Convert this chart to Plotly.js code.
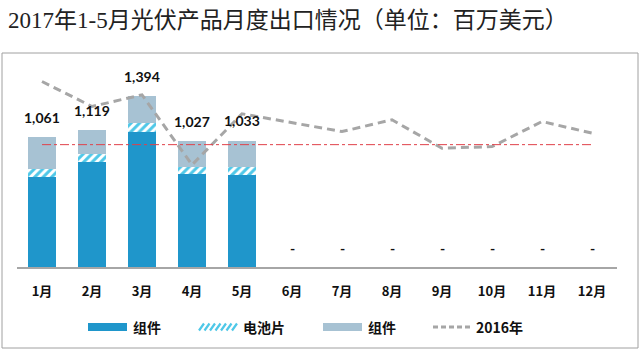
<!DOCTYPE html>
<html>
<head>
<meta charset="utf-8">
<script src="https://cdn.plot.ly/plotly-3.0.1.min.js"></script>
<style>html,body{margin:0;padding:0;background:#fff;}#chart{width:640px;height:351px;}</style>
</head>
<body>
<div id="chart"></div>
<script>
// ---- data ----
const months = ['1月','2月','3月','4月','5月','6月','7月','8月','9月','10月','11月','12月'];
const modules = [739, 862, 1107, 761, 753, null, null, null, null, null, null, null];
const cells   = [60, 60, 69, 60, 68, null, null, null, null, null, null, null];
const others  = [262, 197, 218, 206, 212, null, null, null, null, null, null, null];
const totals  = [1061, 1119, 1394, 1027, 1033, null, null, null, null, null, null, null];
const y2016   = [1516, 1312, 1407, 835, 1252, 1178, 1107, 1203, 971, 984, 1189, 1094];
const refValue = 1000;
const legendNames = ['组件', '电池片', '组件', '2016年'];

// ---- styling ----
const cBlue = '#1f96cb', cCyan = '#4fc8e8', cGrey = '#a7c2d3', cLine = '#a6a6a6', cRed = '#e0404a';
const L = 17, R = 23, T = 59, B = 84, W = 640, H = 351;
const pw = W - L - R, ph = H - T - B;
const px = x => (x - L) / pw;
const py = y => (H - B - y) / ph;

const traces = [
  {type:'bar', x:months, y:modules, name:legendNames[0], marker:{color:cBlue}, width:0.55, hoverinfo:'skip', showlegend:false},
  {type:'bar', x:months, y:cells, name:legendNames[1], width:0.55, hoverinfo:'skip', showlegend:false,
   marker:{color:'#ffffff', pattern:{shape:'/', fgcolor:cCyan, bgcolor:'#ffffff', size:6, solidity:0.5}}},
  {type:'bar', x:months, y:others, name:legendNames[2], marker:{color:cGrey}, width:0.55, hoverinfo:'skip', showlegend:false},
  {type:'scatter', mode:'lines', x:months, y:y2016, name:legendNames[3], line:{color:cLine, width:3, dash:'8px,5px'}, hoverinfo:'skip', showlegend:false}
];

const annotations = [];
months.forEach((m, i) => {
  const t = totals[i];
  annotations.push({
    x: m, y: t == null ? 0 : t, xref:'x', yref:'y', yshift: t == null ? 19 : 20,
    text: t == null ? '-' : t.toLocaleString('en-US'), showarrow:false,
    font:{family:'Lato, Open Sans, sans-serif', size:14, color:'#111', weight:'bold'}
  });
});

// custom legend
const shapes = [];
const legY = 327;
function legendText(x, txt) {
  annotations.push({xref:'paper', yref:'paper', x:px(x), y:py(legY), xanchor:'left', yanchor:'middle',
    text:txt, showarrow:false, font:{family:'Noto Sans CJK SC, sans-serif', size:14, color:'#111', weight:'bold'}});
}
shapes.push({type:'rect', xref:'paper', yref:'paper', x0:px(88), x1:px(127), y0:py(legY+4), y1:py(legY-4), fillcolor:cBlue, line:{width:0}});
legendText(131, legendNames[0]);
let hp = '';
for (let k = 0; k < 7; k++) {
  const x0 = 199 + k * 5.5;
  hp += 'M' + px(x0) + ',' + py(legY+3.5) + ' L' + px(x0 + 5) + ',' + py(legY-3.5) + ' ';
}
shapes.push({type:'path', xref:'paper', yref:'paper', path:hp, line:{color:cCyan, width:2.2}});
legendText(241, legendNames[1]);
shapes.push({type:'rect', xref:'paper', yref:'paper', x0:px(323), x1:px(362), y0:py(legY+4), y1:py(legY-4), fillcolor:cGrey, line:{width:0}});
legendText(366, legendNames[2]);
shapes.push({type:'line', xref:'paper', yref:'paper', x0:px(433), x1:px(473), y0:py(legY), y1:py(legY), line:{color:cLine, width:3, dash:'5px,3px'}});
legendText(474, legendNames[3]);

// reference line
shapes.push({type:'line', xref:'x', yref:'y', x0:months[0], x1:months[months.length-1], y0:refValue, y1:refValue,
  line:{color:cRed, width:1, dash:'dashdot'}, layer:'above'});
// frame
shapes.push({type:'rect', xref:'paper', yref:'paper', x0:px(2), x1:px(638), y0:py(348), y1:py(53),
  line:{color:'#a0a0a0', width:1}, fillcolor:'rgba(0,0,0,0)'});

const layout = {
  width:W, height:H, margin:{l:L, r:R, t:T, b:B}, paper_bgcolor:'#fff', plot_bgcolor:'#fff',
  barmode:'stack', showlegend:false,
  title:{text:'2017年1-5月光伏产品月度出口情况（单位：百万美元）', xref:'container', yref:'container',
    x:8/W, xanchor:'left', y:1 - 20/H, yanchor:'middle',
    font:{family:'Liberation Serif, Noto Sans CJK SC, serif', size:23, color:'#222'}},
  xaxis:{type:'category', showline:true, linecolor:'#a6a6a6', linewidth:1.5, ticks:'', showgrid:false, zeroline:false,
    ticklabelstandoff:12, tickfont:{family:'Noto Sans CJK SC, sans-serif', size:13, color:'#111', weight:'bold'},
    range:[-0.5, 11.5], fixedrange:true},
  yaxis:{range:[0, 1700], visible:false, showgrid:false, zeroline:false, fixedrange:true},
  annotations:annotations, shapes:shapes
};
Plotly.newPlot('chart', traces, layout, {displayModeBar:false, staticPlot:true});
</script>
</body>
</html>
